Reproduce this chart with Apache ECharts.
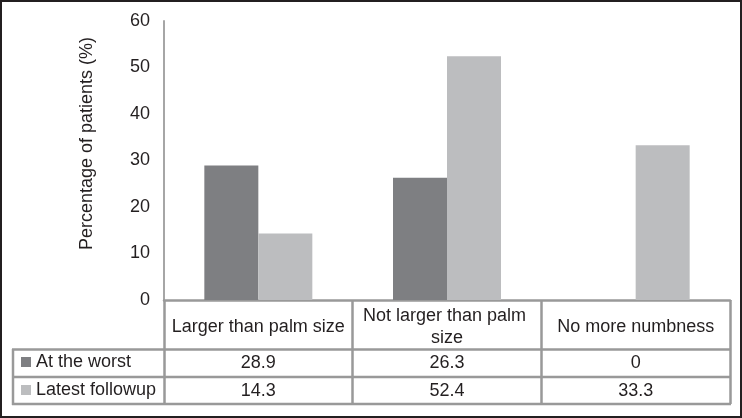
<!DOCTYPE html>
<html>
<head>
<meta charset="utf-8">
<script src="https://cdn.jsdelivr.net/npm/echarts@6/dist/echarts.min.js"></script>
<style>
html,body{margin:0;padding:0;background:#fff;}
#c{width:742px;height:418px;}
</style>
</head>
<body>
<div id="c"></div>
<script>
const categories = ['Larger than palm size', 'Not larger than palm size', 'No more numbness'];
const seriesNames = ['At the worst', 'Latest followup'];
const atWorst = [28.9, 26.3, 0];
const latestFollowup = [14.3, 52.4, 33.3];
const yTicks = { min: 0, max: 60, interval: 10 };
const yTitle = 'Percentage of patients (%)';

const FONT = 'Liberation Sans, Arial, sans-serif';
const TXT = '#231f20';
const DARK = '#7e7f82';
const LIGHT = '#bcbdbf';
const GRID_LINE = '#999999';

const chart = echarts.init(document.getElementById('c'));
const hLine = (x1, x2, y) => ({ type: 'line', shape: { x1, y1: y, x2, y2: y }, style: { stroke: GRID_LINE, lineWidth: 2.5 }, z: 10 });
chart.setOption({
  animation: false,
  backgroundColor: '#fff',
  textStyle: { fontFamily: FONT },
  grid: { left: 164, right: 12, top: 21, bottom: 118, containLabel: false },
  legend: {
    orient: 'vertical', left: 21, top: 352, padding: 0, itemWidth: 10, itemHeight: 10, itemGap: 8,
    icon: 'rect', selectedMode: false,
    textStyle: { fontSize: 18, color: TXT, fontFamily: FONT, lineHeight: 20 },
    data: seriesNames
  },
  xAxis: [
    {
      type: 'category', data: categories, position: 'bottom',
      axisLine: { show: true, lineStyle: { color: GRID_LINE, width: 2.5 } },
      axisTick: { show: true, length: 104, lineStyle: { color: GRID_LINE, width: 2.5 } },
      axisLabel: { fontSize: 18, color: TXT, fontFamily: FONT, margin: 27, verticalAlign: 'middle', width: 182, overflow: 'break', interval: 0, lineHeight: 22 }
    },
    {
      type: 'category', data: categories, position: 'bottom', offset: 0,
      axisLine: { show: false }, axisTick: { show: false },
      axisLabel: { fontSize: 18, color: TXT, fontFamily: FONT, margin: 63, verticalAlign: 'middle', interval: 0, formatter: (v, i) => String(atWorst[i]) }
    },
    {
      type: 'category', data: categories, position: 'bottom', offset: 0,
      axisLine: { show: false }, axisTick: { show: false },
      axisLabel: { fontSize: 18, color: TXT, fontFamily: FONT, margin: 91, verticalAlign: 'middle', interval: 0, formatter: (v, i) => String(latestFollowup[i]) }
    }
  ],
  yAxis: {
    type: 'value', min: yTicks.min, max: yTicks.max, interval: yTicks.interval,
    name: yTitle, nameLocation: 'middle', nameRotate: 90, nameGap: 68,
    nameTextStyle: { fontSize: 18, color: TXT, fontFamily: FONT, padding: [0, 0, 0, 34] },
    axisLine: { show: true, lineStyle: { color: '#a6a6a6', width: 2 } },
    axisTick: { show: false },
    splitLine: { show: false },
    axisLabel: { fontSize: 18, color: TXT, fontFamily: FONT, margin: 14 }
  },
  series: [
    { name: seriesNames[0], type: 'bar', data: atWorst, barWidth: 54, barGap: '0%', itemStyle: { color: DARK } },
    { name: seriesNames[1], type: 'bar', data: latestFollowup, barWidth: 54, barGap: '0%', itemStyle: { color: LIGHT } }
  ],
  graphic: [
    hLine(12, 731, 349.5),
    hLine(12, 731, 377),
    hLine(12, 731, 404),
    { type: 'line', shape: { x1: 13, y1: 349, x2: 13, y2: 405 }, style: { stroke: GRID_LINE, lineWidth: 2.5 }, z: 10 },
    { type: 'rect', shape: { x: 1, y: 1, width: 740, height: 416 }, style: { fill: 'none', stroke: '#231f20', lineWidth: 2 }, z: 20 }
  ]
});
</script>
</body>
</html>
